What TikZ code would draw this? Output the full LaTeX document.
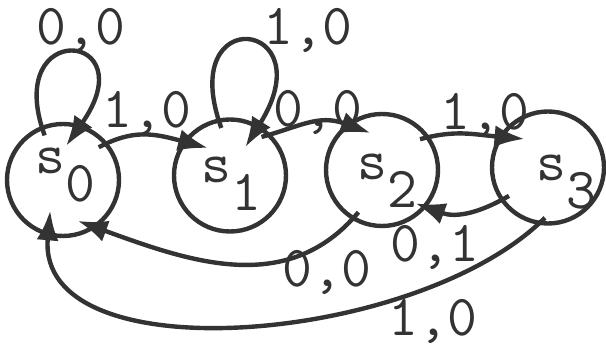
\documentclass[tikz,border=0pt]{standalone}
\usepackage{fontspec}
\usetikzlibrary{arrows.meta}
\tikzset{
  state/.style={circle,draw,line width=2.2pt,minimum size=56pt,inner sep=0pt},
  sname/.style={font=\fontsize{29}{30}\selectfont\ttfamily,inner sep=0pt},
  lbl/.style={font=\fontsize{29}{30}\selectfont\ttfamily,inner sep=0pt,anchor=base},
  tr/.style={line width=2.2pt,-{Latex[length=15pt,width=11pt]},shorten <=-5pt,shorten >=-13pt}
}
\newcommand\lowdigit[1]{\raisebox{-14pt}{#1}}

\begin{document}
\begin{tikzpicture}[x=0.5pt,y=0.5pt,color=black!80]
\useasboundingbox (0,0) rectangle (606,347);
% States s0..s3
\foreach \n/\x/\y in {0/63/167,1/230/171.5,2/382/177,3/548/179.5}
  \node[state] (s\n) at (\x,\y) {};
\foreach \n/\x/\y in {0/65/171.5,1/231/163.5,2/387/166,3/566/164.5}
  \node[sname] (t\n) at (\x,\y) {s\lowdigit{\n}};
% Self loops
\draw[tr] (s0.112) .. controls +(110:115) and +(55:115) .. (s0.72);
\draw[tr] (s1.102) .. controls +(110:125) and +(58:125) .. (s1.60);
% Forward transitions
\draw[tr] (s0.40) to[out=28,in=165] (s1.144);
\draw[tr] (s1.45) to[out=15,in=160] (s2.128);
\draw[tr] (s2.35) to[out=15,in=175] (s3.148);
% Back transitions
\draw[tr,shorten >=-6pt] (s3.215) to[out=210,in=-20] (s2.-40);
\draw[tr,shorten >=-10pt] (s2.239) to[out=230,in=-20] (s0.-55);
\draw[tr] (s3.-100) .. controls +(225:170) and +(-95:140) .. (s0.-105);
% Input,output labels
\foreach \k/\t/\x/\y in {a/{0,0}/81/302, b/{1,0}/147/219, c/{1,0}/308/302,
    d/{0,0}/318/220, e/{1,0}/485/217, f/{0,1}/435/85, g/{0,0}/327/60, h/{1,0}/433/11}
  \node[lbl] (l\k) at (\x,\y) {\t};
\end{tikzpicture}
\end{document}
